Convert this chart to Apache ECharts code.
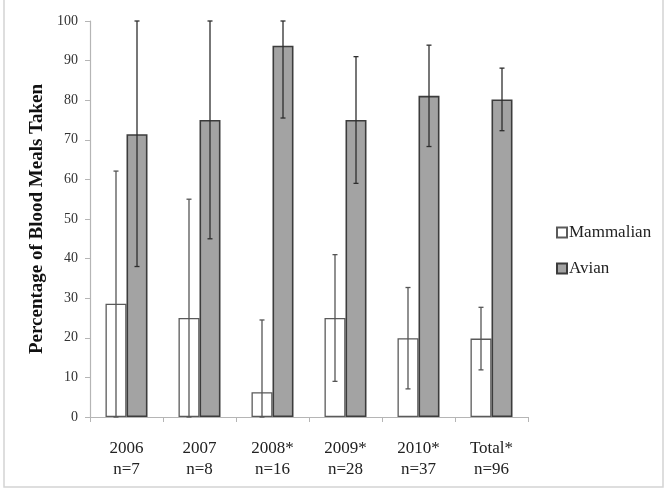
<!DOCTYPE html>
<html>
<head>
<meta charset="utf-8">
<script src="https://cdn.jsdelivr.net/npm/echarts@6/dist/echarts.min.js"></script>
<style>html,body{margin:0;padding:0;background:#fff;}#c{width:668px;height:490px;}</style>
</head>
<body>
<div id="c"></div>
<script>
var categories = ['2006\nn=7', '2007\nn=8', '2008*\nn=16', '2009*\nn=28', '2010*\nn=37', 'Total*\nn=96'];
var mammalian = [28.6, 25, 6.25, 25, 19.9, 19.8];
var mammalianLow = [0, 0, 0, 9, 7.1, 11.9];
var mammalianHigh = [62.1, 55, 24.5, 41, 32.7, 27.7];
var avian = [71.4, 75, 93.75, 75, 81.1, 80.2];
var avianLow = [38, 45, 75.5, 59, 68.3, 72.3];
var avianHigh = [100, 100, 100, 91, 93.9, 88.1];
var yTicks = [0, 10, 20, 30, 40, 50, 60, 70, 80, 90, 100];

var FONT = '"Liberation Serif", "Times New Roman", serif';
var BAR_W = 21;

function errorSeries(low, high, offset, color) {
  var data = low.map(function (l, i) { return [i, l, high[i]]; });
  return {
    type: 'custom',
    silent: true,
    z: 5,
    data: data,
    encode: { x: 0, y: [1, 2] },
    renderItem: function (params, api) {
      var i = api.value(0);
      var lo = api.coord([i, api.value(1)]);
      var hi = api.coord([i, api.value(2)]);
      var x = lo[0] + offset;
      var cap = 2.5;
      var style = { stroke: color, lineWidth: 1.3 };
      return {
        type: 'group',
        children: [
          { type: 'line', shape: { x1: x, y1: lo[1], x2: x, y2: hi[1] }, style: style },
          { type: 'line', shape: { x1: x - cap, y1: hi[1], x2: x + cap, y2: hi[1] }, style: style },
          { type: 'line', shape: { x1: x - cap, y1: lo[1], x2: x + cap, y2: lo[1] }, style: style }
        ]
      };
    }
  };
}

var chart = echarts.init(document.getElementById('c'), null, { renderer: 'canvas' });
chart.setOption({
  backgroundColor: '#ffffff',
  animation: false,
  textStyle: { fontFamily: FONT },
  graphic: [{
    type: 'rect',
    shape: { x: 4, y: -2, width: 659, height: 489 },
    style: { fill: 'none', stroke: '#d4d4d4', lineWidth: 1.5 },
    silent: true
  }],
  legend: {
    orient: 'vertical',
    left: 551,
    top: 219,
    itemWidth: 10,
    itemHeight: 10,
    itemGap: 19,
    icon: 'rect',
    textStyle: { fontFamily: FONT, fontSize: 17, color: '#222', padding: [0, 0, 0, -3] },
    data: ['Mammalian', 'Avian']
  },
  grid: { left: 90, right: 140, top: 21, bottom: 73, containLabel: false },
  xAxis: {
    type: 'category',
    data: categories,
    axisLine: { lineStyle: { color: '#b5b5b5', width: 1.2 } },
    axisTick: { show: true, length: 5, lineStyle: { color: '#b5b5b5' } },
    axisLabel: { fontFamily: FONT, fontSize: 17, color: '#222', lineHeight: 21, margin: 21 }
  },
  yAxis: {
    type: 'value',
    min: 0,
    max: 100,
    interval: 10,
    name: 'Percentage of Blood Meals Taken',
    nameLocation: 'middle',
    nameGap: 43,
    nameTextStyle: { fontFamily: FONT, fontSize: 19, fontWeight: 'bold', color: '#111' },
    axisLine: { show: true, lineStyle: { color: '#b5b5b5', width: 1.2 } },
    axisTick: { show: true, length: 5, lineStyle: { color: '#b5b5b5' } },
    splitLine: { show: false },
    axisLabel: {
      fontFamily: FONT, fontSize: 14, color: '#333', margin: 12,
      formatter: function (v) { return yTicks.indexOf(v) >= 0 ? String(v) : ''; }
    }
  },
  series: [
    {
      name: 'Mammalian',
      type: 'bar',
      data: mammalian,
      barWidth: BAR_W,
      barGap: '0%',
      itemStyle: { color: '#ffffff', borderColor: '#5a5a5a', borderWidth: 1.3 }
    },
    {
      name: 'Avian',
      type: 'bar',
      data: avian,
      barWidth: BAR_W,
      barGap: '0%',
      itemStyle: { color: '#a3a3a3', borderColor: '#3c3c3c', borderWidth: 1.6 }
    },
    errorSeries(mammalianLow, mammalianHigh, -BAR_W / 2, '#555555'),
    errorSeries(avianLow, avianHigh, BAR_W / 2, '#2e2e2e')
  ]
});
</script>
</body>
</html>
